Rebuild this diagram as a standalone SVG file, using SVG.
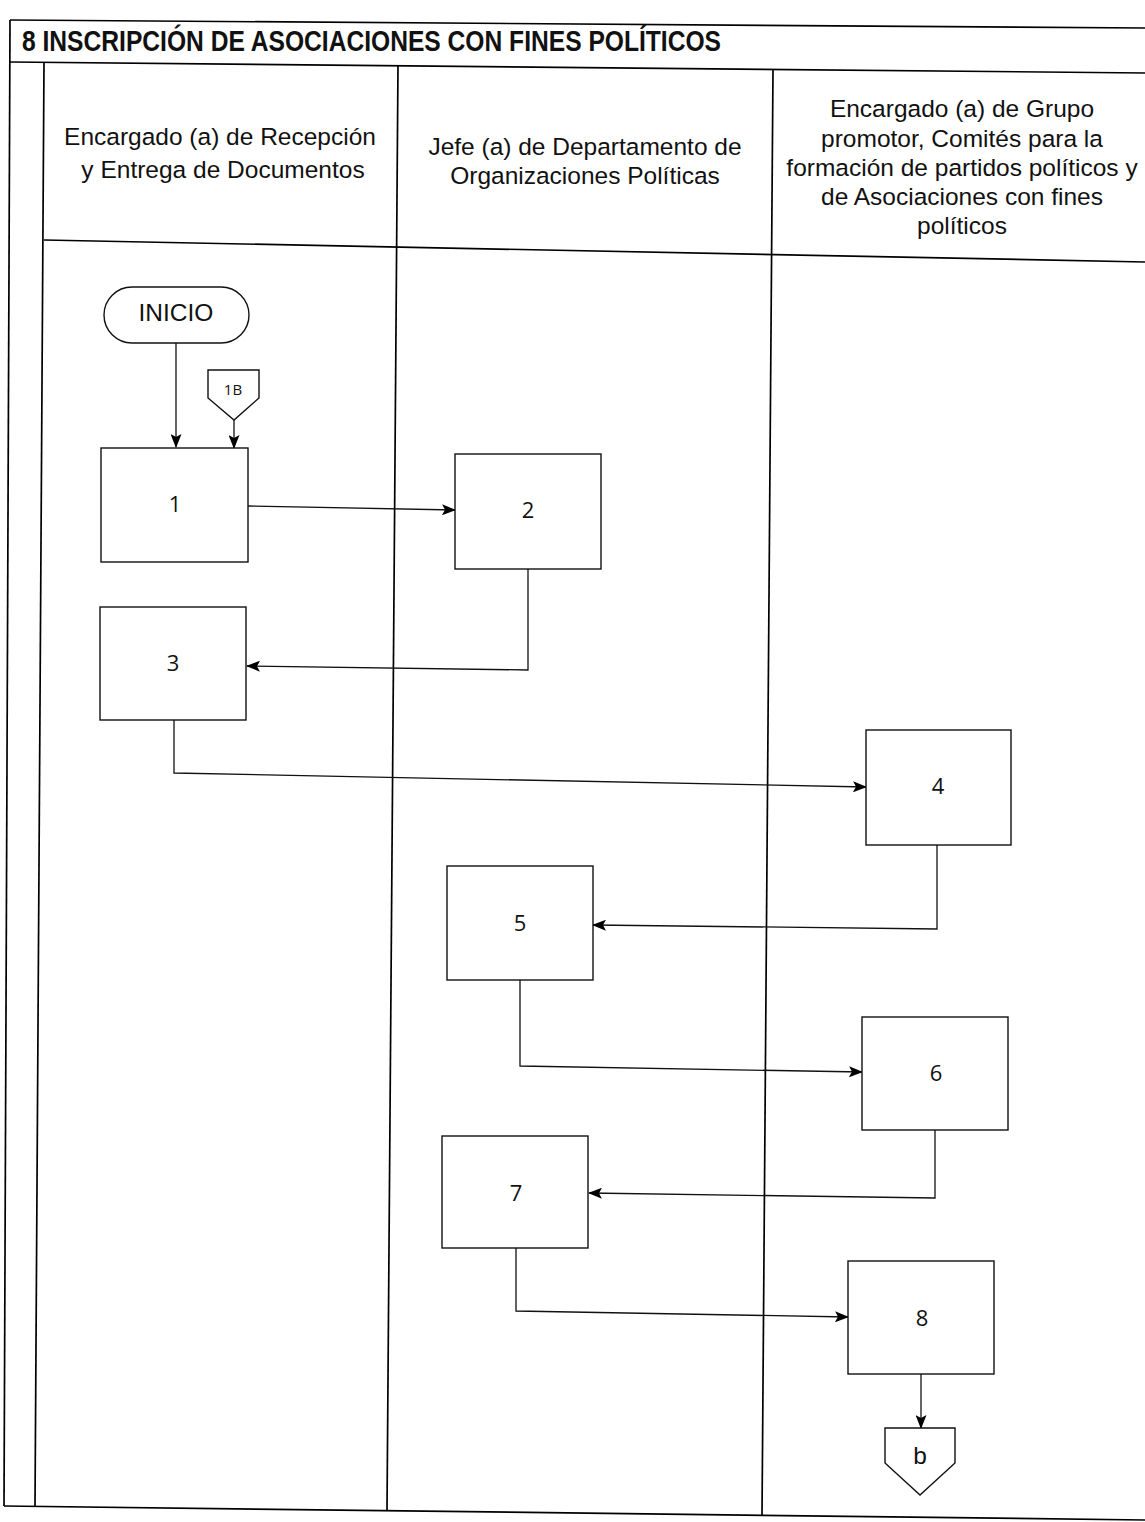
<svg xmlns="http://www.w3.org/2000/svg" width="1145" height="1522" viewBox="0 0 1145 1522">
<defs>
<marker id="ah" markerWidth="14" markerHeight="11" refX="13" refY="5.5" orient="auto" markerUnits="userSpaceOnUse">
<path d="M0,0 L14,5.5 L0,11 L3,5.5 Z" fill="#000"/>
</marker>
</defs>
<style>
.frame{fill:none;stroke:#000;stroke-width:1.7}
.box{fill:#fff;stroke:#111;stroke-width:1.4}
.con{fill:none;stroke:#111;stroke-width:1.3;marker-end:url(#ah)}
.hdr{font-family:"Liberation Sans",Arial,sans-serif;font-size:24.5px;fill:#111;text-anchor:middle}
.num{font-family:"Open Sans","Liberation Sans",sans-serif;font-size:22px;fill:#111;text-anchor:middle}
.title{font-family:"Liberation Sans",Arial,sans-serif;font-weight:bold;font-size:29px;fill:#111}
</style>
<rect width="1145" height="1522" fill="#fff"/>
<g id="frame">
<line class="frame" x1="10" y1="20" x2="1145" y2="28"/>
<line class="frame" x1="10" y1="20" x2="4" y2="1506"/>
<line class="frame" x1="10" y1="62" x2="1145" y2="73"/>
<line class="frame" x1="44" y1="62" x2="35" y2="1507"/>
<line class="frame" x1="398" y1="65" x2="387" y2="1511"/>
<line class="frame" x1="773" y1="69" x2="762" y2="1516"/>
<line class="frame" x1="44" y1="240" x2="1145" y2="262"/>
<line class="frame" x1="4" y1="1506" x2="1145" y2="1520"/>
<text class="title" x="22" y="51" textLength="699" lengthAdjust="spacingAndGlyphs">8 INSCRIPCIÓN DE ASOCIACIONES CON FINES POLÍTICOS</text>
</g>
<g id="lane1">
<text class="hdr" x="220" y="145">Encargado (a) de Recepción</text>
<text class="hdr" x="223" y="178">y Entrega de Documentos</text>
</g>
<g id="lane2">
<text class="hdr" x="585" y="155">Jefe (a) de Departamento de</text>
<text class="hdr" x="585" y="184">Organizaciones Políticas</text>
</g>
<g id="lane3">
<text class="hdr" x="962" y="117">Encargado (a) de Grupo</text>
<text class="hdr" x="962" y="147">promotor, Comités para la</text>
<text class="hdr" x="962" y="176">formación de partidos políticos y</text>
<text class="hdr" x="962" y="205">de Asociaciones con fines</text>
<text class="hdr" x="962" y="234">políticos</text>
</g>
<g id="connectors">
<path class="con" d="M176,343 L176,447"/>
<path class="con" d="M234,420 L234,448"/>
<path class="con" d="M248,506 L455,510"/>
<path class="con" d="M528,569 L528,670 L247,666"/>
<path class="con" d="M174,720 L174,773 L866,787"/>
<path class="con" d="M937,845 L937,929 L593,925"/>
<path class="con" d="M520,980 L520,1066 L862,1072"/>
<path class="con" d="M935,1130 L935,1198 L589,1193"/>
<path class="con" d="M516,1248 L516,1311 L848,1317"/>
<path class="con" d="M921,1374 L921,1428"/>
</g>
<g id="inicio">
<rect class="box" x="104" y="287" width="145" height="56" rx="28" ry="28"/>
<text class="hdr" x="176" y="321">INICIO</text>
</g>
<g id="c1B">
<path class="box" d="M208,370 L259,370 L259,398 L234,420 L208,398 Z"/>
<text class="num" x="233" y="395" style="font-size:15px">1B</text>
</g>
<g id="n1"><rect class="box" x="101" y="448" width="147" height="114"/><text class="num" x="175" y="512">1</text></g>
<g id="n2"><rect class="box" x="455" y="454" width="146" height="115"/><text class="num" x="528" y="518">2</text></g>
<g id="n3"><rect class="box" x="100" y="607" width="146" height="113"/><text class="num" x="173" y="671">3</text></g>
<g id="n4"><rect class="box" x="866" y="730" width="145" height="115"/><text class="num" x="938" y="794">4</text></g>
<g id="n5"><rect class="box" x="447" y="866" width="146" height="114"/><text class="num" x="520" y="931">5</text></g>
<g id="n6"><rect class="box" x="862" y="1017" width="146" height="113"/><text class="num" x="936" y="1081">6</text></g>
<g id="n7"><rect class="box" x="442" y="1136" width="146" height="112"/><text class="num" x="516" y="1201">7</text></g>
<g id="n8"><rect class="box" x="848" y="1261" width="146" height="113"/><text class="num" x="922" y="1326">8</text></g>
<g id="cb">
<path class="box" d="M885,1428 L955,1428 L955,1463 L920,1495 L885,1463 Z"/>
<text class="hdr" x="920" y="1464">b</text>
</g>
</svg>
